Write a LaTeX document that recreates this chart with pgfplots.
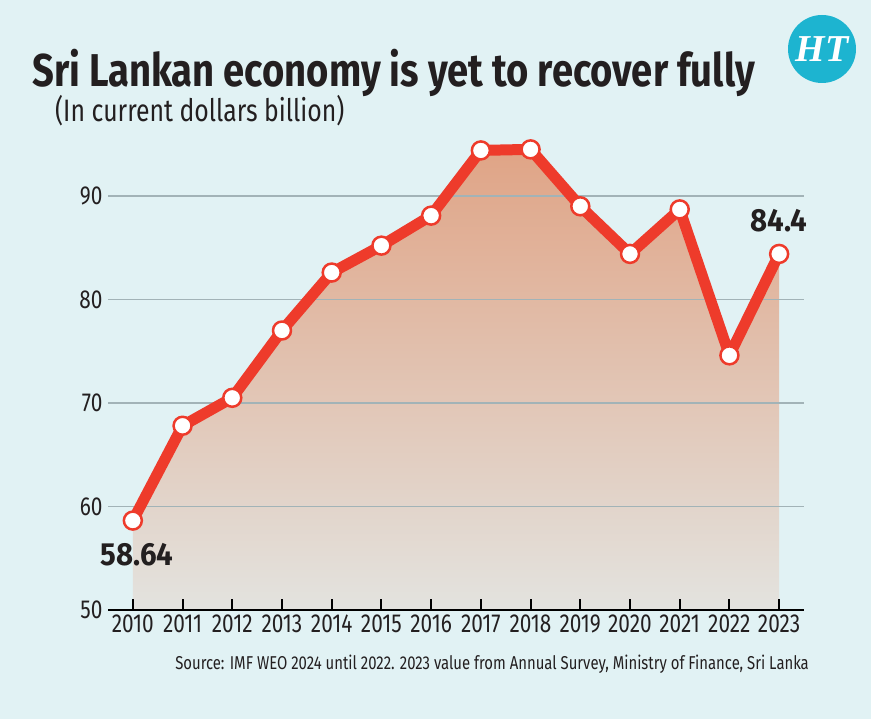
\documentclass[border=0pt]{standalone}
\usepackage{pgfplots}
\pgfplotsset{compat=1.18}
\usepackage{fontspec}
\setmainfont{Fira Sans}[FakeStretch=0.8]
\newfontfamily\titlefont{Fira Sans}[FakeStretch=0.83]
\newfontfamily\annfont{Fira Sans}[FakeStretch=0.92]
\newfontfamily\logofont{Liberation Serif}
\definecolor{bg}{HTML}{E1F2F4}
\definecolor{redline}{HTML}{EE3B2B}
\definecolor{fillTop}{HTML}{E0A486}
\definecolor{fillMid}{HTML}{E1B197}
\definecolor{fillBot}{HTML}{E3E3DF}
\definecolor{gridc}{HTML}{A2B3B7}
\definecolor{htblue}{HTML}{1DB4D0}
\definecolor{txt}{HTML}{231F20}
\begin{document}
\begin{tikzpicture}
\fill[bg] (0,0) rectangle (871bp,719bp);
\begin{axis}[
  at={(108bp,109bp)}, anchor=south west,
  scale only axis, width=696bp, height=486.5bp,
  xmin=2009.5, xmax=2023.5, ymin=50, ymax=97,
  axis on top,
  axis x line*=bottom, axis y line*=left,
  x axis line style={-, line width=2.5bp, black},
  y axis line style={draw=none},
  xtick={2010,...,2023}, ytick={50,60,70,80,90},
  tick align=inside, major tick length=11bp,
  xtick style={line width=2bp, black},
  ytick style={draw=none},
  /pgf/number format/assume math mode=true,
  xticklabel style={/pgf/number format/1000 sep={}, font=\fontsize{26bp}{26bp}\selectfont, text=txt, yshift=-1bp},
  yticklabel style={font=\fontsize{26bp}{26bp}\selectfont, text=txt, xshift=-2bp},
  clip=false,
]
\addplot[draw=none, top color=fillTop, middle color=fillMid, bottom color=fillBot] coordinates {
(2010,50) (2010,58.64) (2011,67.8) (2012,70.5) (2013,77.0) (2014,82.6) (2015,85.2) (2016,88.1)
(2017,94.4) (2018,94.5) (2019,89.0) (2020,84.4) (2021,88.7) (2022,74.6) (2023,84.4) (2023,50)};
\addplot[gridc, line width=1.5bp] coordinates {(2009.5,60) (2023.5,60)};
\addplot[gridc, line width=1.5bp] coordinates {(2009.5,70) (2023.5,70)};
\addplot[gridc, line width=1.5bp] coordinates {(2009.5,80) (2023.5,80)};
\addplot[gridc, line width=1.5bp] coordinates {(2009.5,90) (2023.5,90)};
\addplot[redline, line width=11bp, line join=round, mark=*, mark size=9bp,
  mark options={fill=white, draw=redline, line width=2.5bp}] coordinates {
(2010,58.64) (2011,67.8) (2012,70.5) (2013,77.0) (2014,82.6) (2015,85.2) (2016,88.1)
(2017,94.4) (2018,94.5) (2019,89.0) (2020,84.4) (2021,88.7) (2022,74.6) (2023,84.4)};
\node[font=\annfont\bfseries\fontsize{32bp}{32bp}\selectfont, text=txt] at (axis cs:2010.08,55.3) {58.64};
\node[font=\annfont\bfseries\fontsize{32bp}{32bp}\selectfont, text=txt] at (axis cs:2023.0,87.6) {84.4};
\end{axis}
\node[anchor=base west, inner sep=0, font=\titlefont\bfseries\fontsize{46bp}{46bp}\selectfont, text=txt] at (32bp,632bp) {Sri Lankan economy is yet to recover fully};
\node[anchor=base west, inner sep=0, font=\fontsize{31bp}{31bp}\selectfont, text=txt] at (55bp,597bp) {(In current dollars billion)};
\node[anchor=base east, inner sep=0, font=\fontsize{18.6bp}{18.6bp}\selectfont, text=txt] at (809bp,49bp) {Source: IMF WEO 2024 until 2022. 2023 value from Annual Survey, Ministry of Finance, Sri Lanka};
\fill[htblue] (822bp,670bp) circle (34bp);
\node[text=white, font=\logofont\bfseries\itshape\fontsize{38bp}{38bp}\selectfont] at (822bp,670bp) {HT};
\end{tikzpicture}
\end{document}
